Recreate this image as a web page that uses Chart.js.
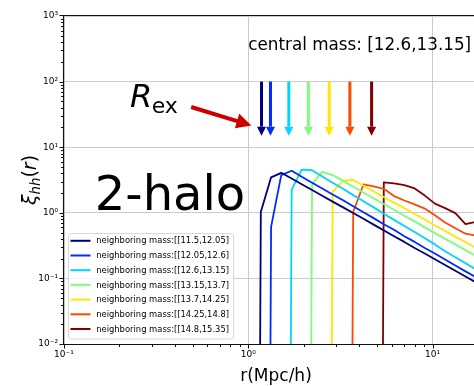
<!DOCTYPE html>
<html><head><meta charset="utf-8">
<script src="https://cdn.jsdelivr.net/npm/chart.js@4.4.0/dist/chart.umd.min.js"></script>
<style>
html,body{margin:0;padding:0;background:#fff;overflow:hidden;width:474px;height:386px;}
#wrap{position:absolute;left:0;top:0;width:500px;height:386px;}
canvas{display:block;}
</style></head><body>
<div id="wrap"><canvas id="c" width="500" height="386"></canvas></div>
<script>
// ---------- data ----------
const radii = [1.03, 1.17, 1.33, 1.51, 1.72, 1.95, 2.22, 2.52, 2.87, 3.27, 3.71, 4.22, 4.79, 5.44, 6.18, 7.03, 8.00, 9.08, 10.3, 11.7, 13.3, 15.1, 17.2, 19.5];
const seriesLabels = [
  'neighboring mass:[[11.5,12.05]',
  'neighboring mass:[[12.05,12.6]',
  'neighboring mass:[[12.6,13.15]',
  'neighboring mass:[[13.15,13.7]',
  'neighboring mass:[[13.7,14.25]',
  'neighboring mass:[[14.25,14.8]',
  'neighboring mass:[[14.8,15.35]'
];
const xiMass1 = [0, 1.03, 3.47, 4.07, 3.33, 2.72, 2.22, 1.82, 1.48, 1.21, 0.99, 0.81, 0.66, 0.54, 0.44, 0.36, 0.29, 0.24, 0.196, 0.160, 0.131, 0.107, 0.087, 0.071];
const xiMass2 = [0, 0, 0.61, 3.76, 4.37, 3.55, 2.88, 2.34, 1.90, 1.55, 1.26, 1.02, 0.83, 0.67, 0.55, 0.44, 0.36, 0.29, 0.24, 0.194, 0.157, 0.128, 0.104, 0.085];
const xiMass3 = [0, 0, 0, 0, 2.25, 4.55, 4.45, 3.58, 2.88, 2.32, 1.86, 1.50, 1.21, 0.97, 0.78, 0.63, 0.51, 0.41, 0.33, 0.26, 0.21, 0.171, 0.137, 0.110];
const xiMass4 = [0, 0, 0, 0, 0, 0, 2.74, 4.20, 3.76, 3.07, 2.50, 2.04, 1.66, 1.36, 1.11, 0.90, 0.74, 0.60, 0.49, 0.40, 0.33, 0.27, 0.22, 0.177];
const xiMass5 = [0, 0, 0, 0, 0, 0, 0, 0, 2.09, 3.08, 3.16, 2.59, 2.12, 1.74, 1.43, 1.17, 0.96, 0.79, 0.64, 0.53, 0.43, 0.36, 0.29, 0.239];
const xiMass6 = [0, 0, 0, 0, 0, 0, 0, 0, 0, 0, 1.03, 2.71, 2.53, 2.32, 1.80, 1.54, 1.34, 1.16, 0.92, 0.71, 0.58, 0.48, 0.45, 0.37];
const xiMass7 = [0, 0, 0, 0, 0, 0, 0, 0, 0, 0, 0, 0, 0, 2.90, 2.80, 2.64, 2.35, 1.83, 1.38, 1.18, 0.99, 0.67, 0.73, 0.60];
const seriesValues = [xiMass1, xiMass2, xiMass3, xiMass4, xiMass5, xiMass6, xiMass7];
const exclusionRadii = [1.18, 1.32, 1.66, 2.12, 2.75, 3.56, 4.67];
const xTickValues = [0.1, 1, 10];
const xTickLabels = ['10\u207B\u00B9', '10\u2070', '10\u00B9'];
const yTickValues = [0.01, 0.1, 1, 10, 100, 1000];
const yTickLabels = ['10\u207B\u00B2', '10\u207B\u00B9', '10\u2070', '10\u00B9', '10\u00B2', '10\u00B3'];
const titleText = 'central mass: [12.6,13.15]';
const bigText = '2-halo';

// ---------- style ----------
const colors = ['#00007f', '#002aff', '#00d4ff', '#7bff7b', '#ffe600', '#ff4800', '#800000'];
const FONT = '"DejaVu Sans", sans-serif';
const gridColor = '#cccccc';

function tickLabel(values, labels, v) {
  for (let i = 0; i < values.length; i++) {
    if (Math.abs(Math.log10(v) - Math.log10(values[i])) < 1e-6) return labels[i];
  }
  return '';
}
function isDecade(v) { const l = Math.log10(v); return Math.abs(l - Math.round(l)) < 1e-6; }

const datasets = seriesValues.map((vals, i) => ({
  label: seriesLabels[i],
  data: radii.map((r, j) => ({ x: r, y: vals[j] > 0 ? vals[j] : 1e-30 })),
  borderColor: colors[i],
  backgroundColor: colors[i],
  borderWidth: 1.8,
  pointRadius: 0,
  tension: 0,
  fill: false,
  borderJoinStyle: 'round'
}));

function arrowV(ctx, x, y0, y1, color, shaftW, headW, headL) {
  ctx.fillStyle = color;
  ctx.fillRect(x - shaftW / 2, y0, shaftW, (y1 - headL) - y0);
  ctx.beginPath();
  ctx.moveTo(x - headW / 2, y1 - headL);
  ctx.lineTo(x + headW / 2, y1 - headL);
  ctx.lineTo(x, y1);
  ctx.closePath();
  ctx.fill();
}
function arrowAny(ctx, x0, y0, x1, y1, color, shaftW, headW, headL) {
  const ang = Math.atan2(y1 - y0, x1 - x0);
  const len = Math.hypot(x1 - x0, y1 - y0);
  ctx.save();
  ctx.translate(x0, y0);
  ctx.rotate(ang);
  ctx.fillStyle = color;
  ctx.fillRect(0, -shaftW / 2, len - headL + 1, shaftW);
  ctx.beginPath();
  ctx.moveTo(len - headL, -headW / 2);
  ctx.lineTo(len, 0);
  ctx.lineTo(len - headL, headW / 2);
  ctx.closePath();
  ctx.fill();
  ctx.restore();
}

const decor = {
  id: 'decor',
  afterDraw(chart) {
    const ctx = chart.ctx, ca = chart.chartArea;
    const xs = chart.scales.x, ys = chart.scales.y;
    ctx.save();
    // spines
    ctx.strokeStyle = '#111';
    ctx.lineWidth = 1.1;
    ctx.beginPath();
    ctx.moveTo(ca.left - 0.5, ca.top); ctx.lineTo(ca.left - 0.5, ca.bottom + 0.5);
    ctx.moveTo(ca.left - 1, ca.bottom + 0.5); ctx.lineTo(ca.right, ca.bottom + 0.5);
    ctx.moveTo(ca.left - 1, ca.top - 0.5); ctx.lineTo(ca.right, ca.top - 0.5);
    ctx.moveTo(ca.right + 0.5, ca.top); ctx.lineTo(ca.right + 0.5, ca.bottom);
    ctx.stroke();
    // ticks
    ctx.lineWidth = 1;
    ctx.beginPath();
    for (let e = -1; e <= 1; e++) {
      for (let m = 1; m <= 9; m++) {
        const v = m * Math.pow(10, e);
        if (v < xs.min - 1e-9 || v > xs.max + 1e-9) continue;
        const px = Math.round(xs.getPixelForValue(v)) + 0.5;
        const L = m === 1 ? 3.5 : 2;
        ctx.moveTo(px, ca.bottom + 1); ctx.lineTo(px, ca.bottom + 1 + L);
      }
    }
    for (let e = -2; e <= 2; e++) {
      for (let m = 1; m <= 9; m++) {
        const v = m * Math.pow(10, e);
        if (v < ys.min - 1e-9 || v > ys.max + 1e-9) continue;
        const py = Math.round(ys.getPixelForValue(v)) + 0.5;
        const L = m === 1 ? 3.5 : 2;
        ctx.moveTo(ca.left - 1, py); ctx.lineTo(ca.left - 1 - L, py);
      }
    }
    const pyTop = Math.round(ys.getPixelForValue(1000)) - 0.5;
    ctx.moveTo(ca.left - 1, pyTop); ctx.lineTo(ca.left - 4.5, pyTop);
    ctx.stroke();

    // exclusion arrows
    const yA0 = ys.getPixelForValue(100), yA1 = ys.getPixelForValue(15);
    exclusionRadii.forEach((r, i) => {
      arrowV(ctx, xs.getPixelForValue(r), yA0, yA1, colors[i], 3, 9, 9);
    });
    // R_ex pointer arrow
    arrowAny(ctx, xs.getPixelForValue(0.49), ys.getPixelForValue(41),
             xs.getPixelForValue(1.04), ys.getPixelForValue(21.5), '#cc0000', 4, 15, 15);

    ctx.fillStyle = '#000';
    ctx.textBaseline = 'alphabetic';
    ctx.textAlign = 'left';
    // central mass text
    ctx.font = '16.8px ' + FONT;
    ctx.fillText(titleText, xs.getPixelForValue(1.0), ys.getPixelForValue(300));
    // 2-halo
    ctx.font = '48px ' + FONT;
    ctx.fillText(bigText, xs.getPixelForValue(0.147), ys.getPixelForValue(1.1));
    // R_ex
    const rx = xs.getPixelForValue(0.228), ry = ys.getPixelForValue(41);
    ctx.font = 'italic 32px ' + FONT;
    ctx.fillText('R', rx, ry);
    const rw = ctx.measureText('R').width;
    ctx.font = '22px ' + FONT;
    ctx.fillText('ex', rx + rw - 0.5, ry + 6);

    // legend
    const fs = 8.4;
    ctx.font = fs + 'px ' + FONT;
    const tw = Math.max(...seriesLabels.map(l => ctx.measureText(l).width));
    const bx = ca.left + 4, pad = 2.5, handleL = 20, gap = 5.7;
    const bw = pad + handleL + gap + tw + 4;
    const pitch = 14.7, bh = 7.7 + 6 * pitch + 9.5;
    const by = ca.bottom - 5.5 - bh;
    ctx.beginPath();
    if (ctx.roundRect) ctx.roundRect(bx + 0.5, by + 0.5, bw, bh, 3); else ctx.rect(bx + 0.5, by + 0.5, bw, bh);
    ctx.fillStyle = 'rgba(255,255,255,0.8)';
    ctx.fill();
    ctx.strokeStyle = '#d6d6d6';
    ctx.lineWidth = 1;
    ctx.stroke();
    ctx.textBaseline = 'middle';
    seriesLabels.forEach((lab, i) => {
      const cy = by + 7.7 + i * pitch;
      ctx.strokeStyle = colors[i];
      ctx.lineWidth = 2;
      ctx.beginPath();
      ctx.moveTo(bx + pad, cy); ctx.lineTo(bx + pad + handleL, cy);
      ctx.stroke();
      ctx.fillStyle = '#000';
      ctx.fillText(lab, bx + pad + handleL + gap, cy + 0.5);
    });

    // axis titles
    ctx.textBaseline = 'alphabetic';
    ctx.textAlign = 'center';
    ctx.font = '17px ' + FONT;
    ctx.fillText('r(Mpc/h)', (ca.left + ca.right) / 2, 381);

    // y label: xi_hh(r)
    ctx.save();
    ctx.translate(36, (ca.top + ca.bottom) / 2);
    ctx.rotate(-Math.PI / 2);
    ctx.textAlign = 'left';
    const big = 19, small = 13.3;
    const parts = [
      { t: '\u03BE', f: 'italic ' + big + 'px ' + FONT, dy: 0 },
      { t: 'hh', f: 'italic ' + small + 'px ' + FONT, dy: 4 },
      { t: '(', f: big + 'px ' + FONT, dy: 0 },
      { t: 'r', f: 'italic ' + big + 'px ' + FONT, dy: 0 },
      { t: ')', f: big + 'px ' + FONT, dy: 0 }
    ];
    let total = 0;
    parts.forEach(p => { ctx.font = p.f; p.w = ctx.measureText(p.t).width; total += p.w; });
    let cx = -total / 2;
    parts.forEach(p => { ctx.font = p.f; ctx.fillText(p.t, cx, p.dy); cx += p.w; });
    ctx.restore();

    ctx.restore();
  }
};

new Chart(document.getElementById('c'), {
  type: 'line',
  data: { datasets },
  options: {
    responsive: false,
    animation: false,
    devicePixelRatio: 1,
    layout: { padding: { top: 16, right: 12, left: 0, bottom: 0 } },
    plugins: { legend: { display: false }, tooltip: { enabled: false } },
    scales: {
      x: {
        type: 'logarithmic', min: 0.1, max: 20,
        afterFit(s) { s.height = 42; },
        border: { display: false },
        grid: { color: c => (c.tick && isDecade(c.tick.value)) ? gridColor : 'rgba(0,0,0,0)', lineWidth: 1, drawTicks: false },
        ticks: { autoSkip: false, maxRotation: 0, minRotation: 0, padding: 5, color: '#000',
          font: { family: FONT, size: 9 },
          callback: v => tickLabel(xTickValues, xTickLabels, v) }
      },
      y: {
        type: 'logarithmic', min: 0.01, max: 1000,
        afterFit(s) { s.width = 64; },
        border: { display: false },
        grid: { color: c => (c.tick && isDecade(c.tick.value)) ? gridColor : 'rgba(0,0,0,0)', lineWidth: 1, drawTicks: false },
        ticks: { autoSkip: false, padding: 6, color: '#000',
          font: { family: FONT, size: 9 },
          callback: v => tickLabel(yTickValues, yTickLabels, v) }
      }
    }
  },
  plugins: [decor]
});
</script>
</body></html>
